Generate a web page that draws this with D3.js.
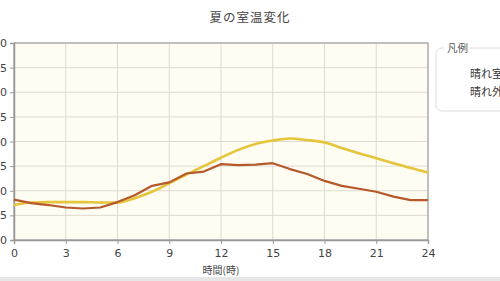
<!DOCTYPE html>
<html><head><meta charset="utf-8">
<script src="https://cdn.jsdelivr.net/npm/d3@7"></script>
<style>
html,body{margin:0;padding:0;background:#fff;overflow:hidden;}
svg{display:block;font-family:"Noto Sans CJK JP","Noto Sans",sans-serif;}
</style></head><body>
<svg id="c" width="500" height="281"></svg>
<script>
const title = "夏の室温変化";
const xLabel = "時間(時)";
const legendTitle = "凡例";
const hours = [0,1,2,3,4,5,6,7,8,9,10,11,12,13,14,15,16,17,18,19,20,21,22,23,24];
const seriesNames = ["晴れ室温","晴れ外気温"];
const roomTemp = [8.2,7.5,7.1,6.6,6.4,6.6,7.7,9.1,11.0,11.7,13.5,13.9,15.4,15.2,15.3,15.6,14.4,13.4,12.0,11.0,10.4,9.8,8.8,8.1,8.1];
const outTemp  = [7.1,7.6,7.7,7.7,7.7,7.6,7.6,8.5,9.8,11.5,13.3,15.0,16.7,18.3,19.5,20.2,20.6,20.3,19.8,18.7,17.6,16.6,15.6,14.6,13.7];
const xTicks = [0,3,6,9,12,15,18,21,24];
const yTicks = [0,5,10,15,20,25,30,35,40];
const colors = ["#b5592b","#e5c53a"];

const svg = d3.select("#c");
const m = {l:14, r:428, t:43, b:240};
const x = d3.scaleLinear().domain([0,24]).range([m.l,m.r]);
const y = d3.scaleLinear().domain([0,40]).range([m.b,m.t]);

// bottom band
svg.append("rect").attr("x",0).attr("y",277).attr("width",500).attr("height",4).attr("fill","#e6e6e6");

svg.append("text").attr("x",250).attr("y",22).attr("text-anchor","middle")
  .attr("font-size",12.5).attr("fill","#444").attr("letter-spacing",1).text(title);

svg.append("rect").attr("x",m.l).attr("y",m.t).attr("width",m.r-m.l).attr("height",m.b-m.t)
  .attr("fill","#fffcf2");

// grid
svg.append("g").selectAll("line").data(yTicks).join("line")
  .attr("x1",m.l).attr("x2",m.r).attr("y1",d=>y(d)).attr("y2",d=>y(d))
  .attr("stroke","#dedad0").attr("stroke-width",1);
svg.append("g").selectAll("line").data(xTicks).join("line")
  .attr("y1",m.t).attr("y2",m.b).attr("x1",d=>x(d)).attr("x2",d=>x(d))
  .attr("stroke","#dedad0").attr("stroke-width",1);

// border
svg.append("rect").attr("x",m.l).attr("y",m.t).attr("width",m.r-m.l).attr("height",m.b-m.t)
  .attr("fill","none").attr("stroke","#a8a8a8").attr("stroke-width",1.3);

// axes
const yAxis = svg.append("g").attr("transform",`translate(${m.l},0)`)
  .call(d3.axisLeft(y).tickValues(yTicks).tickSize(4).tickPadding(3));
const xAxis = svg.append("g").attr("transform",`translate(0,${m.b})`)
  .call(d3.axisBottom(x).tickValues(xTicks).tickSize(4).tickPadding(5));
[yAxis,xAxis].forEach(a=>{
  a.select(".domain").attr("stroke","#999").attr("stroke-width",1.5);
  a.selectAll(".tick line").attr("stroke","#999");
  a.selectAll("text").attr("font-size",11).attr("fill","#444").attr("font-family","'DejaVu Sans',sans-serif");
});

svg.append("text").attr("x",221).attr("y",274).attr("text-anchor","middle")
  .attr("font-size",10).attr("fill","#444").text(xLabel);

const line = d3.line().x((d,i)=>x(hours[i])).y(d=>y(d));
const lineS = d3.line().x((d,i)=>x(hours[i])).y(d=>y(d)).curve(d3.curveMonotoneX);
svg.append("path").datum(outTemp).attr("d",lineS).attr("fill","none")
  .attr("stroke",colors[1]).attr("stroke-width",2.6);
svg.append("path").datum(roomTemp).attr("d",line).attr("fill","none")
  .attr("stroke",colors[0]).attr("stroke-width",2.2).attr("stroke-linejoin","round");

// legend
const lg = svg.append("g");
lg.append("rect").attr("x",436).attr("y",48).attr("width",90).attr("height",63).attr("rx",6)
  .attr("fill","#fff").attr("stroke","#dcdcdc");
lg.append("rect").attr("x",444).attr("y",41).attr("width",26).attr("height",14).attr("fill","#fff");
lg.append("text").attr("x",447).attr("y",52).attr("font-size",10.5).attr("fill","#555").text(legendTitle);
lg.selectAll(".li").data(seriesNames).join("text").attr("class","li")
  .attr("x",470).attr("y",(d,i)=>78+i*18).attr("font-size",11).attr("fill","#333").text(d=>d);
</script></body></html>
